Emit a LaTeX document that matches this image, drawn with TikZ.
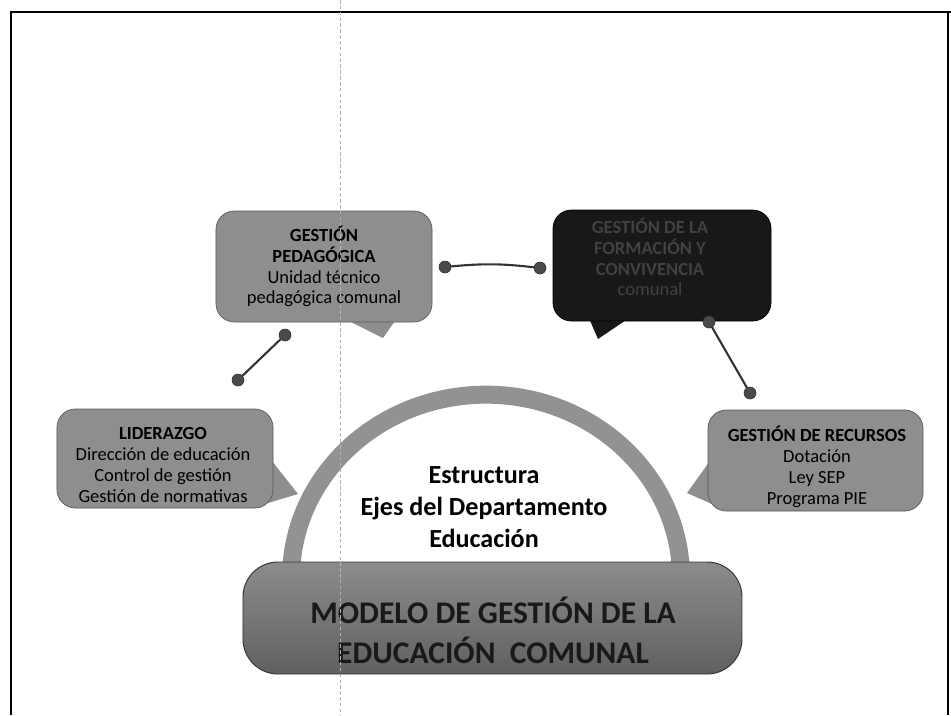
\documentclass[tikz,border=0pt]{standalone}
\usepackage{fontspec}
\setmainfont{Carlito}
\usetikzlibrary{calc}
\definecolor{boxgray}{HTML}{8E8E8E}
\definecolor{darkbox}{HTML}{181818}
\definecolor{archgray}{HTML}{929292}
\definecolor{dotgray}{HTML}{4A4A4A}
\definecolor{bantop}{HTML}{8C8C8C}
\definecolor{banbot}{HTML}{606060}
\begin{document}
\begin{tikzpicture}[x=0.03cm,y=-0.03cm,
  boxshape/.style={fill=boxgray, rounded corners=0.55cm, inner sep=0pt, draw=gray!70!black, line width=0.6pt},
  boxtext/.style={align=center, inner sep=0pt, font=\fontsize{15.8}{17.8}\selectfont, text=black},
  dot/.style={circle, fill=dotgray, draw=black!80, line width=0.5pt, minimum size=0.36cm, inner sep=0pt},
  conn/.style={line width=1.8pt, draw=black!80, line cap=round},
  frameline/.style={line width=2.2pt, draw=black}]
\useasboundingbox (0,0) rectangle (951,715);
\fill[white] (0,0) rectangle (951,715);

% frame
\draw[frameline] (11,715) -- (11,12) -- (951,12);
\draw[line width=1.2pt] (948,12) -- (948,715);

% arch
\coordinate (archL) at (291,578);
\fill[white] (archL) arc[start angle=180, end angle=0, x radius=5.85cm, y radius=5.5cm];
\draw[archgray, line width=0.54cm] (archL) arc[start angle=180, end angle=0, x radius=5.85cm, y radius=5.5cm];
\node[font=\bfseries\fontsize{22.3}{27.4}\selectfont, align=center, inner sep=0pt] (arch) at (484,507) {Estructura\\Ejes del Departamento\\Educación};

% banner
\node[rounded corners=1.05cm, top color=bantop, bottom color=banbot, draw=gray!40!black, line width=0.8pt,
      minimum width=14.97cm, minimum height=3.36cm, inner sep=0pt] (banner) at (492.5,618) {};
\node[font=\bfseries\fontsize{26.9}{34}\selectfont, align=center, inner sep=0pt, text=black!90] (bannertext) at (493,630)
  {MODELO DE GESTIÓN DE LA\\EDUCACIÓN\ \ COMUNAL};

% Gestión pedagógica
\fill[boxgray] (343,318) -- (383,338) -- (397,318) -- cycle;
\node[boxshape, minimum width=6.48cm, minimum height=3.33cm] (gp) at (324,266.5) {};
\node[boxtext] (gptext) at (324,266.5) {\textbf{GESTIÓN}\\\textbf{PEDAGÓGICA}\\Unidad técnico\\pedagógica comunal};

% Formación y convivencia (dark)
\fill[darkbox] (588,316) -- (598,339) -- (632,316) -- cycle;
\node[boxshape, fill=darkbox, draw=black, minimum width=6.54cm, minimum height=3.33cm] (fc) at (662,265.5) {};
\node[boxtext, text=gray!40!darkbox] (fctext) at (650,257) {\textbf{GESTIÓN DE LA}\\\textbf{FORMACIÓN Y}\\\textbf{CONVIVENCIA}\\comunal};

% Liderazgo
\fill[boxgray] (268,456) -- (298,494) -- (268,503) -- cycle;
\node[boxshape, minimum width=6.48cm, minimum height=2.97cm] (lid) at (165,458.5) {};
\node[boxtext] (lidtext) at (163,465) {\textbf{LIDERAZGO}\\Dirección de educación\\Control de gestión\\Gestión de normativas};

% Gestión de recursos
\fill[boxgray] (712,458) -- (687,493) -- (712,504) -- cycle;
\node[boxshape, minimum width=6.45cm, minimum height=3.03cm] (rec) at (815.5,460.5) {};
\node[boxtext] (rectext) at (817,467) {\textbf{GESTIÓN\ DE RECURSOS}\\Dotación\\Ley SEP\\Programa PIE};

% connectors
\node[dot] (d1) at (285,335) {};
\node[dot] (d2) at (238,380) {};
\node[dot] (d3) at (445,267) {};
\node[dot] (d4) at (540,268) {};
\node[dot] (d5) at (709,322) {};
\node[dot] (d6) at (750,393) {};
\draw[conn] (d1) -- (d2);
\draw[conn] (d3) to[bend left=6] (d4);
\draw[conn] (d5) -- (d6);

% scan fold line
\draw[gray!60, line width=0.4pt, dash pattern=on 3pt off 2pt] (340,0) -- (340,715);
\end{tikzpicture}
\end{document}
